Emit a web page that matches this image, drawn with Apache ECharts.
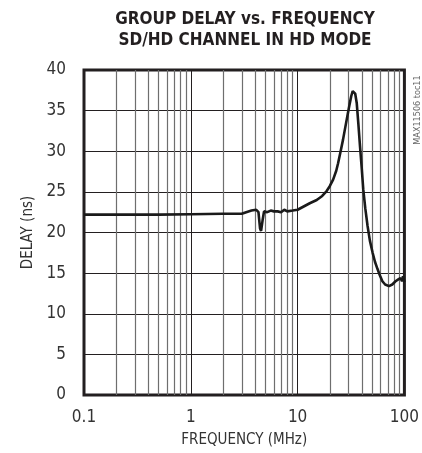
<!DOCTYPE html>
<html><head><meta charset="utf-8">
<script src="https://cdn.jsdelivr.net/npm/echarts@6/dist/echarts.min.js"></script>
<style>html,body{margin:0;padding:0;background:#fff}#c{width:422px;height:453px}</style>
</head><body><div id="c"></div>
<script>
const freqMHz = [0.1,0.5,1,2,3,3.3,3.7,4.1,4.3,4.45,4.55,4.7,4.85,5.2,5.6,6,6.5,7,7.5,8,9,10,11.4,13,15.1,17,18.7,20,21.5,23,23.9,25.2,26.6,28,29.6,30.7,31.8,32.8,33.6,34.6,35.8,37,38.4,39.8,41.2,43,45.2,47.5,50.4,53,56,59,62.2,66,71.7,77,82.6,87,91.8,95,97,100];
const delayNs = [22.2,22.2,22.25,22.3,22.3,22.5,22.7,22.8,22.5,20.5,20.2,21.5,22.6,22.5,22.7,22.6,22.6,22.5,22.8,22.6,22.7,22.8,23.2,23.6,24.0,24.5,25.1,25.7,26.5,27.6,28.5,29.9,31.4,33.0,34.7,35.8,36.8,37.4,37.5,37.1,35.9,33.5,30.6,28.0,25.3,23.0,20.8,19.0,17.5,16.4,15.5,14.7,14.0,13.6,13.4,13.6,14.0,14.2,14.4,14.0,14.6,13.9];
const minorGridFreqs = [0.2,0.3,0.4,0.5,0.6,0.7,0.8,0.9,2,3,4,5,6,7,8,9,20,30,40,50,60,70,80,90];
const xTickLabels = ['0.1','1','10','100'];

const FONT = '"DejaVu Sans Condensed","Liberation Sans Narrow","Arial Narrow",sans-serif';
const chart = echarts.init(document.getElementById('c'), null, {renderer:'canvas'});
chart.setOption({
  animation:false,
  backgroundColor:'#fff',
  graphic:[
    {type:'text', x:245, y:9, style:{text:'GROUP DELAY vs. FREQUENCY\nSD/HD CHANNEL IN HD MODE', textAlign:'center', font:'bold 17px '+FONT, fill:'#231f20', lineHeight:21}},
    {type:'text', x:413, y:110, rotation:Math.PI/2, style:{text:'MAX11506 toc11', textAlign:'center', textVerticalAlign:'top', font:'9px '+FONT, fill:'#666'}}
  ],
  grid:{left:84, top:70, width:325, height:326, show:true, borderColor:'#231f20', borderWidth:3, backgroundColor:'transparent'},
  xAxis:{
    type:'log', logBase:10, min:0.1, max:100,
    name:'FREQUENCY (MHz)', nameLocation:'middle', nameGap:38,
    nameTextStyle:{fontFamily:FONT, fontSize:15, color:'#333'},
    axisLine:{show:false}, axisTick:{show:false},
    axisLabel:{fontFamily:FONT, fontSize:17, color:'#333', margin:14,
      formatter:function(v){ const s = String(+v.toPrecision(3)); return xTickLabels.indexOf(s)>=0 ? s : ''; }},
    splitLine:{show:true, lineStyle:{color:'#231f20', width:1}}
  },
  yAxis:{
    type:'value', min:0, max:40, interval:5,
    name:'DELAY (ns)', nameLocation:'middle', nameGap:48,
    nameTextStyle:{fontFamily:FONT, fontSize:15, color:'#333'},
    axisLine:{show:false}, axisTick:{show:false},
    axisLabel:{fontFamily:FONT, fontSize:17, color:'#333', margin:18},
    splitLine:{show:true, lineStyle:{color:'#231f20', width:1}}
  },
  series:[{
    type:'line', data:freqMHz.map((f,i)=>[f,delayNs[i]]),
    showSymbol:false, smooth:false,
    lineStyle:{color:'#1a1a1a', width:2.6},
    markLine:{silent:true, symbol:['none','none'], label:{show:false},
      lineStyle:{color:'#6e6e6e', width:1.2, type:'solid'},
      data:minorGridFreqs.map(f=>({xAxis:f}))},
    z:5
  }]
});
</script></body></html>
